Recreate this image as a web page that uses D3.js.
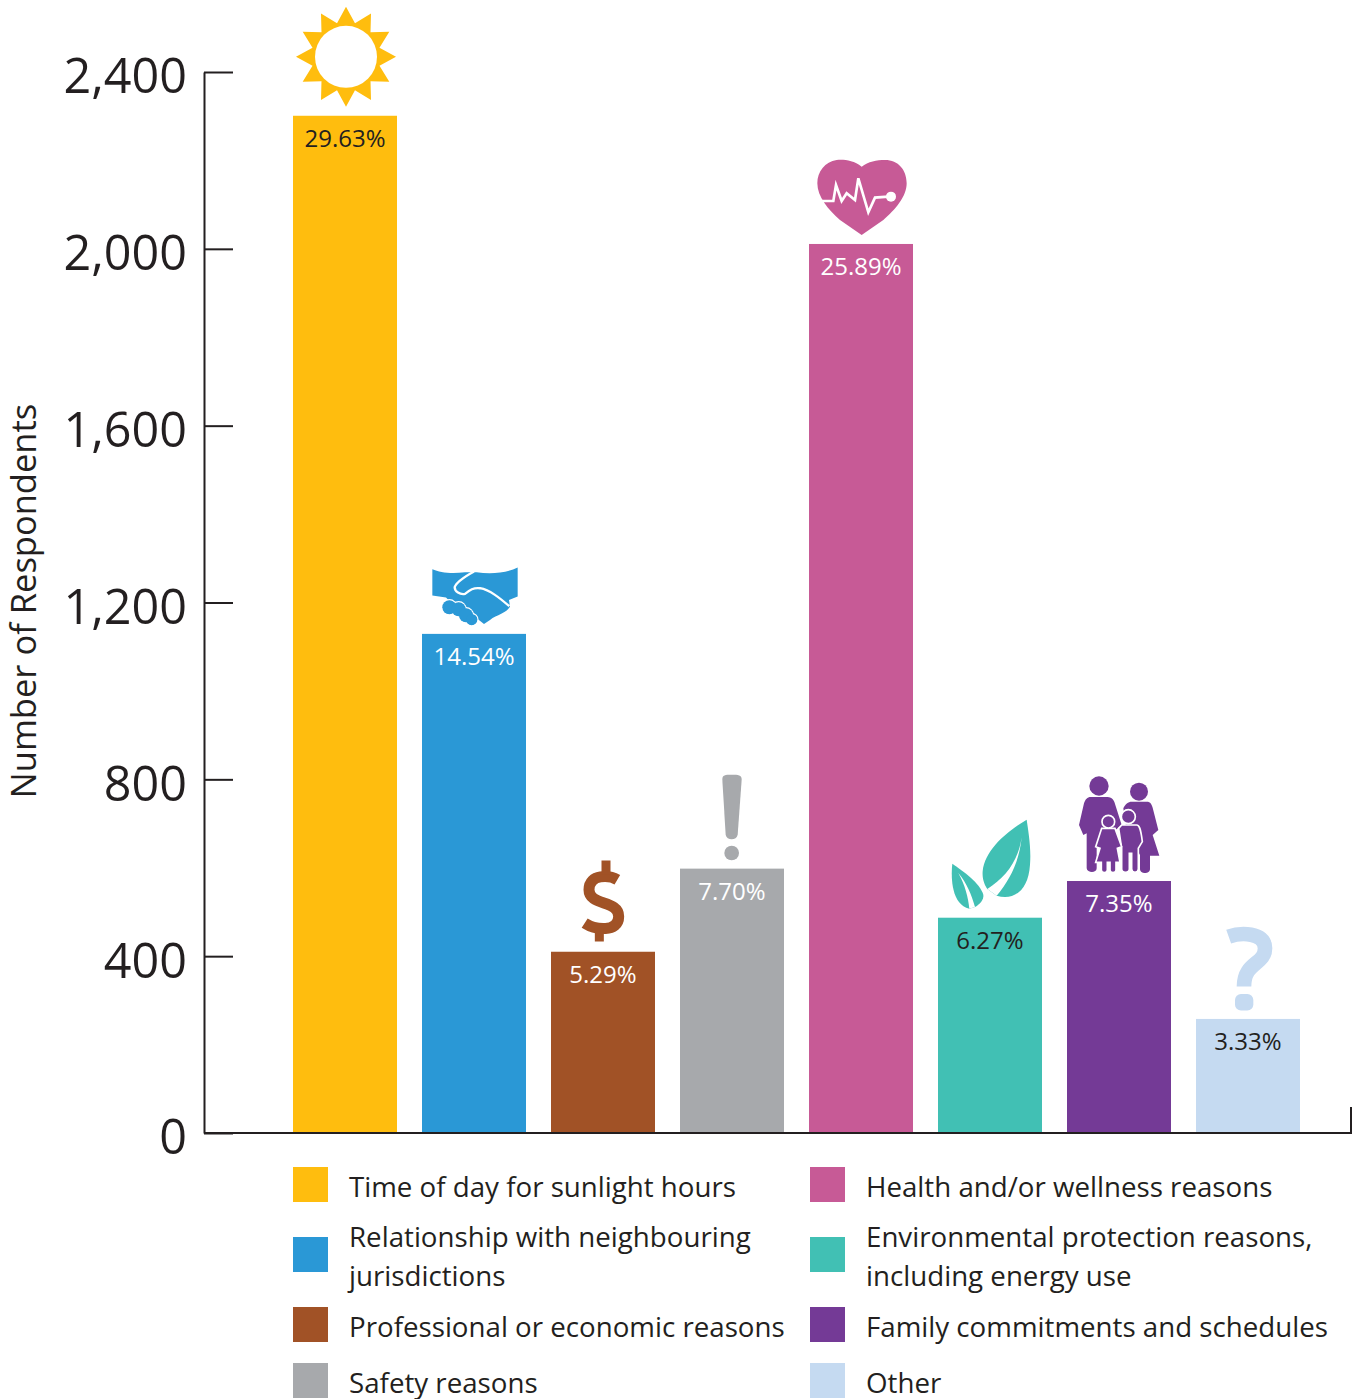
<!DOCTYPE html>
<html><head><meta charset="utf-8">
<script src="https://cdn.jsdelivr.net/npm/d3@7/dist/d3.min.js"></script>
<style>html,body{margin:0;padding:0;background:#fff}svg{display:block}text{font-family:"Open Sans",sans-serif;fill:#231f20}</style>
</head><body><svg id="c" width="1357" height="1399"></svg>
<script>
const categories=["Time of day for sunlight hours","Relationship with neighbouring jurisdictions","Professional or economic reasons","Safety reasons","Health and/or wellness reasons","Environmental protection reasons, including energy use","Family commitments and schedules","Other"];
const values=[2301,1129,410,598,2011,487,570,258];
const percents=["29.63%","14.54%","5.29%","7.70%","25.89%","6.27%","7.35%","3.33%"];
const colors=["#FFBD0E","#2A98D6","#A15226","#A7A9AC","#C75A96","#41C0B4","#743A96","#C5DAF1"];
const labelColors=["#231f20","#fff","#fff","#fff","#fff","#231f20","#fff","#231f20"];
const tickValues=[0,400,800,1200,1600,2000,2400];
const legendLines=[["Time of day for sunlight hours"],["Relationship with neighbouring","jurisdictions"],["Professional or economic reasons"],["Safety reasons"],["Health and/or wellness reasons"],["Environmental protection reasons,","including energy use"],["Family commitments and schedules"],["Other"]];
const yTitle="Number of Respondents";

const svg=d3.select("#c");
const y=d3.scaleLinear().domain([0,2400]).range([1133,72]);
const x=d3.scaleBand().domain(categories).range([280.5,1312.5]).paddingInner(25/129).paddingOuter(25/258);

svg.append("g").selectAll("rect").data(categories).join("rect")
 .attr("x",d=>x(d)).attr("width",x.bandwidth())
 .attr("y",(d,i)=>y(values[i])).attr("height",(d,i)=>y(0)-y(values[i]))
 .attr("fill",(d,i)=>colors[i]);

svg.append("g").selectAll("text").data(categories).join("text")
 .attr("x",d=>x(d)+x.bandwidth()/2).attr("y",(d,i)=>y(values[i])+31)
 .attr("text-anchor","middle").style("font-size","24px").style("fill",(d,i)=>labelColors[i])
 .text((d,i)=>percents[i]);

// axes
const ax=svg.append("g").attr("transform","translate(204,0)")
 .call(d3.axisLeft(y).tickValues(tickValues).tickFormat(d3.format(",")).tickSize(-29).tickSizeOuter(0).tickPadding(17));
ax.selectAll("path,line").attr("stroke","#231f20").attr("stroke-width",2);
ax.selectAll("text").style("font-size","48.5px").attr("dy","0.43em").style("fill","#231f20").style("font-family",'"Open Sans",sans-serif');
svg.append("path").attr("d",d3.line()([[204,y(0)],[1351,y(0)],[1351,y(0)-26]])).attr("fill","none").attr("stroke","#231f20").attr("stroke-width",2);

svg.append("text").attr("transform","translate(36,601) rotate(-90)").attr("text-anchor","middle").style("font-size","34.5px").text(yTitle);

// icons, drawn in 3x local units around (cx, top of bar)
function iconGroup(i,ox,oy){
 return svg.append("g").attr("fill",colors[i]).attr("transform",`translate(${x(categories[i])+x.bandwidth()/2},${y(values[i])}) scale(${1/3}) translate(${-ox},${-oy})`);
}
// sun
(function(){
 const g=iconGroup(0,195,348);
 const pts=d3.range(24).map(k=>[k*Math.PI/12,k%2?104:150]);
 g.append("path").attr("transform","translate(198,171)").attr("d",d3.lineRadial().curve(d3.curveLinearClosed)(pts));
 g.append("circle").attr("cx",198).attr("cy",171).attr("r",93).attr("fill","#fff");
})();
// handshake
(function(){
 const g=iconGroup(1,192,237);
 g.append("path").attr("d","M67,43 C90,52 120,58 165,52 L200,52 C240,58 290,55 323,38 L323,125 L297,135 L300,155 C290,175 260,180 240,195 L222,207 L200,190 L130,150 L108,128 L67,122 Z");
 g.append("path").attr("fill","none").attr("stroke","#fff").attr("stroke-width",7).attr("d","M192,50 C165,65 138,85 134,97 C134,110 150,120 165,117 C180,105 190,98 210,100 C240,105 270,130 298,154");
 const lumps=[[118,157,22],[146,163,22],[168,181,22],[185,194,18]];
 lumps.forEach(c=>g.append("circle").attr("cx",c[0]).attr("cy",c[1]).attr("r",c[2]).attr("stroke","#fff").attr("stroke-width",5));
 lumps.forEach(c=>g.append("circle").attr("cx",c[0]).attr("cy",c[1]).attr("r",c[2]-1));
})();
// dollar
(function(){
 const g=iconGroup(2,129,561);
 g.append("path").attr("fill","none").attr("stroke",colors[2]).attr("stroke-width",33).attr("d","M172,345 C150,332 87,325 87,375 C87,425 176,405 176,455 C176,505 105,495 74,475");
 g.append("path").attr("fill","none").attr("stroke",colors[2]).attr("stroke-width",27).attr("d","M138,287 L138,330 M118,490 L118,530");
})();
// exclamation
(function(){
 const g=iconGroup(3,516,312);
 g.append("path").attr("d","M487,45 C487,30 495,30 515,30 C535,30 545,30 545,45 L533,210 C530,228 500,228 497,210 Z");
 g.append("circle").attr("cx",515).attr("cy",265).attr("r",22);
})();
// heart
(function(){
 const g=iconGroup(4,183,282);
 g.append("path").attr("d","M185,50 C160,30 130,28 110,30 C75,35 52,65 52,100 C52,140 85,180 120,210 L185,255 L250,210 C285,180 320,140 320,100 C320,60 295,30 255,30 C230,30 205,35 185,50 Z");
 g.append("path").attr("fill","none").attr("stroke","#fff").attr("stroke-width",8).attr("d","M65,153 L100,153 L108,105 L125,153 L140,130 L165,150 L175,85 L205,187 L225,143 L265,140");
 g.append("circle").attr("cx",273).attr("cy",140).attr("r",15).attr("fill","#fff");
})();
// leaves
(function(){
 const g=iconGroup(5,180,459);
 g.append("path").attr("d","M290,165 C240,195 165,250 158,320 C156,345 165,362 172,373 L200,393 C250,408 295,380 300,300 C304,250 295,200 290,165 Z");
 g.append("path").attr("fill","#fff").attr("d","M275,218 C265,290 225,340 172,373 L200,393 C240,345 268,290 275,218 Z");
 g.append("path").attr("d","M67,297 C62,340 65,420 118,432 L135,427 C150,418 162,405 160,390 C150,355 100,320 67,297 Z");
 g.append("path").attr("fill","#fff").attr("d","M85,325 C105,360 115,400 118,432 L135,427 C125,390 110,355 85,325 Z");
})();
// family
(function(){
 const g=iconGroup(6,567,348);
 g.append("circle").attr("cx",507).attr("cy",63).attr("r",29);
 g.append("circle").attr("cx",627).attr("cy",80).attr("r",27);
 g.append("path").attr("d","M482,96 H532 C548,96 553,108 556,120 L575,180 L500,240 L500,310 C500,325 472,325 470,310 L470,205 L460,210 L447,180 L462,115 C466,103 472,96 482,96 Z");
 g.append("path").attr("d","M605,110 H650 C662,110 665,118 668,128 L685,195 L668,210 L688,272 H660 V312 C660,328 630,328 630,312 V270 L590,200 L580,130 C585,118 595,110 605,110 Z");
 const kids=g.append("g").attr("stroke","#fff").attr("stroke-width",5);
 kids.append("path").attr("d","M575,180 H620 C628,180 632,190 637,230 L628,245 L625,250 V312 C625,325 605,325 605,312 V265 H598 V312 C598,325 575,325 575,312 V250 L566,190 Z");
 kids.append("circle").attr("cx",595).attr("cy",155).attr("r",21);
 kids.append("path").attr("d","M515,190 H555 L575,245 L562,250 L570,292 H558 V315 C558,325 540,325 540,315 V292 H532 V315 C532,325 514,325 514,315 V292 H497 L510,250 L497,245 Z");
 kids.append("circle").attr("cx",535).attr("cy",170).attr("r",19);
})();
// question
(function(){
 const g=iconGroup(7,174,297);
 g.append("path").attr("fill","none").attr("stroke",colors[7]).attr("stroke-width",44).attr("d","M116,50 C150,38 225,35 225,85 C225,135 162,125 162,200");
 g.append("rect").attr("x",135).attr("y",222).attr("width",55).attr("height",50).attr("rx",18);
})();

// legend
const rowTops=[1167,1237,1307,1363], colX=[293,810];
const lg=svg.append("g");
categories.forEach((c,i)=>{
 const col=i<4?0:1,row=i%4,sx=colX[col],sy=rowTops[row];
 lg.append("rect").attr("x",sx).attr("y",sy).attr("width",35).attr("height",35).attr("fill",colors[i]);
 const base=sy+(legendLines[i].length>1?10:30);
 legendLines[i].forEach((t,k)=>lg.append("text").attr("x",sx+56).attr("y",base+k*39).style("font-size","27.7px").text(t));
});
</script></body></html>
